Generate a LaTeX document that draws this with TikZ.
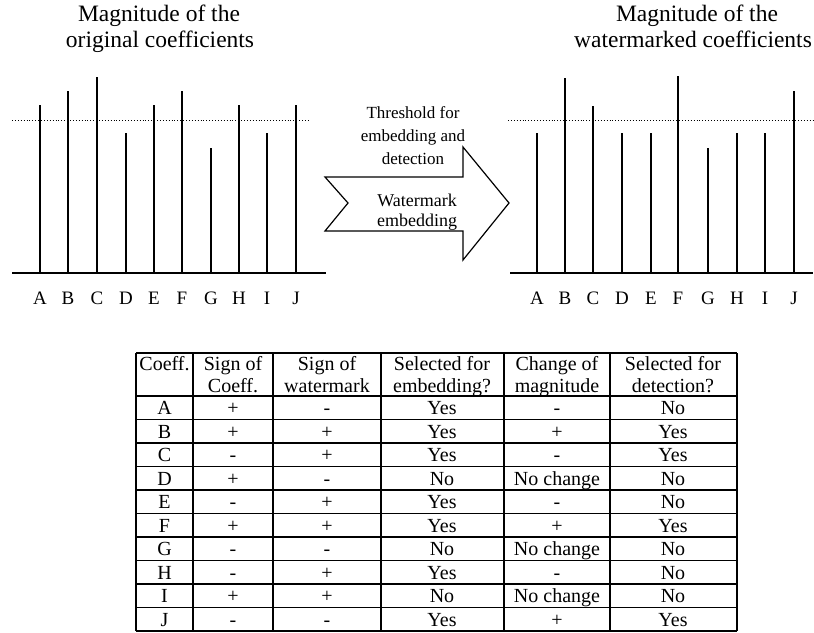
\documentclass[tikz,border=0pt]{standalone}
\usepackage{fontspec}
\setmainfont{Liberation Serif}
\begin{document}
\begin{tikzpicture}[x=1pt,y=-1pt,
  bar/.style={line width=1.8pt},
  axisline/.style={line width=1.8pt},
  thr/.style={line width=0.9pt, dotted},
  title/.style={font=\fontsize{23.5}{26}\selectfont, inner sep=0pt, anchor=base},
  lbl/.style={font=\fontsize{19}{22}\selectfont, inner sep=0pt, anchor=base},
  arrtext/.style={font=\fontsize{18}{20}\selectfont, inner sep=0pt, anchor=base},
  small/.style={font=\fontsize{17}{22}\selectfont, inner sep=0pt, anchor=base},
  cell/.style={font=\fontsize{20}{22}\selectfont, inner sep=0pt, anchor=base},
  gridline/.style={line width=1.1pt},
  arrowshape/.style={line width=1.2pt, fill=white}]
\useasboundingbox (0,0) rectangle (814,632);

% titles
\node[title] (t1a) at (159,21) {Magnitude of the};
\node[title] (t1b) at (160,47) {original coefficients};
\node[title] (t2a) at (697,21) {Magnitude of the};
\node[title] (t2b) at (693,47) {watermarked coefficients};

% left chart
\draw[axisline] (12,273) -- (326,273);
\draw[thr] (12,120) -- (310,120);
\foreach \x/\t/\n in {40/105/A,68/91/B,97/77/C,126/133/D,154/105/E,182/91/F,211/148/G,239/105/H,267/133/I,296/105/J}{
  \draw[bar] (\x,273) -- (\x,\t);
  \node[lbl] (L\n) at (\x,304) {\n};
}

% right chart
\draw[axisline] (510,273) -- (813,273);
\draw[thr] (508,120) -- (814,120);
\foreach \x/\t/\n in {537/133/A,565/78/B,593/106/C,622/133/D,651/133/E,678/76/F,708/148/G,737/133/H,765/133/I,794/91/J}{
  \draw[bar] (\x,273) -- (\x,\t);
  \node[lbl] (R\n) at (\x,304) {\n};
}

% threshold text
\node[small] (th1) at (413,118) {Threshold for};
\node[small] (th2) at (413,141) {embedding and};
\node[small] (th3) at (413,164) {detection};

% arrow
\draw[arrowshape] (325,177) -- (463,177) -- (463,147) -- (509,203) -- (463,260) -- (463,231) -- (325,231) -- (348,203) -- cycle;
\node[arrtext] (w1) at (417,206) {Watermark};
\node[arrtext] (w2) at (417,226) {embedding};

% table grid
\foreach \y in {353,396,419.5,443,466.5,490,513.5,537,560.5,584,607.5,631}{
  \draw[gridline] (136,\y) -- (737,\y);
}
\foreach \x in {136,193,273,381,504,610,737}{
  \draw[gridline] (\x,353) -- (\x,631);
}

% header
\node[cell] (h1) at (164.5,370) {Coeff.};
\node[cell] (h2a) at (233,370) {Sign of};
\node[cell] (h2b) at (233,392) {Coeff.};
\node[cell] (h3a) at (327,370) {Sign of};
\node[cell] (h3b) at (327,392) {watermark};
\node[cell] (h4a) at (442,370) {Selected for};
\node[cell] (h4b) at (442,392) {embedding?};
\node[cell] (h5a) at (557,370) {Change of};
\node[cell] (h5b) at (557,392) {magnitude};
\node[cell] (h6a) at (673,370) {Selected for};
\node[cell] (h6b) at (673,392) {detection?};

% rows
\foreach \i/\c/\s/\w/\e/\m/\d in {0/A/+/-/Yes/-/No,1/B/+/+/Yes/+/Yes,2/C/-/+/Yes/-/Yes,3/D/+/-/No/No change/No,4/E/-/+/Yes/-/No,5/F/+/+/Yes/+/Yes,6/G/-/-/No/No change/No,7/H/-/+/Yes/-/No,8/I/+/+/No/No change/No,9/J/-/-/Yes/+/Yes}{
  \pgfmathsetmacro{\yy}{396+23.5*\i+18.5}
  \node[cell] (c\c1) at (164.5,\yy) {\c};
  \node[cell] (c\c2) at (233,\yy) {\s};
  \node[cell] (c\c3) at (327,\yy) {\w};
  \node[cell] (c\c4) at (442,\yy) {\e};
  \node[cell] (c\c5) at (557,\yy) {\m};
  \node[cell] (c\c6) at (673,\yy) {\d};
}
\end{tikzpicture}
\end{document}
